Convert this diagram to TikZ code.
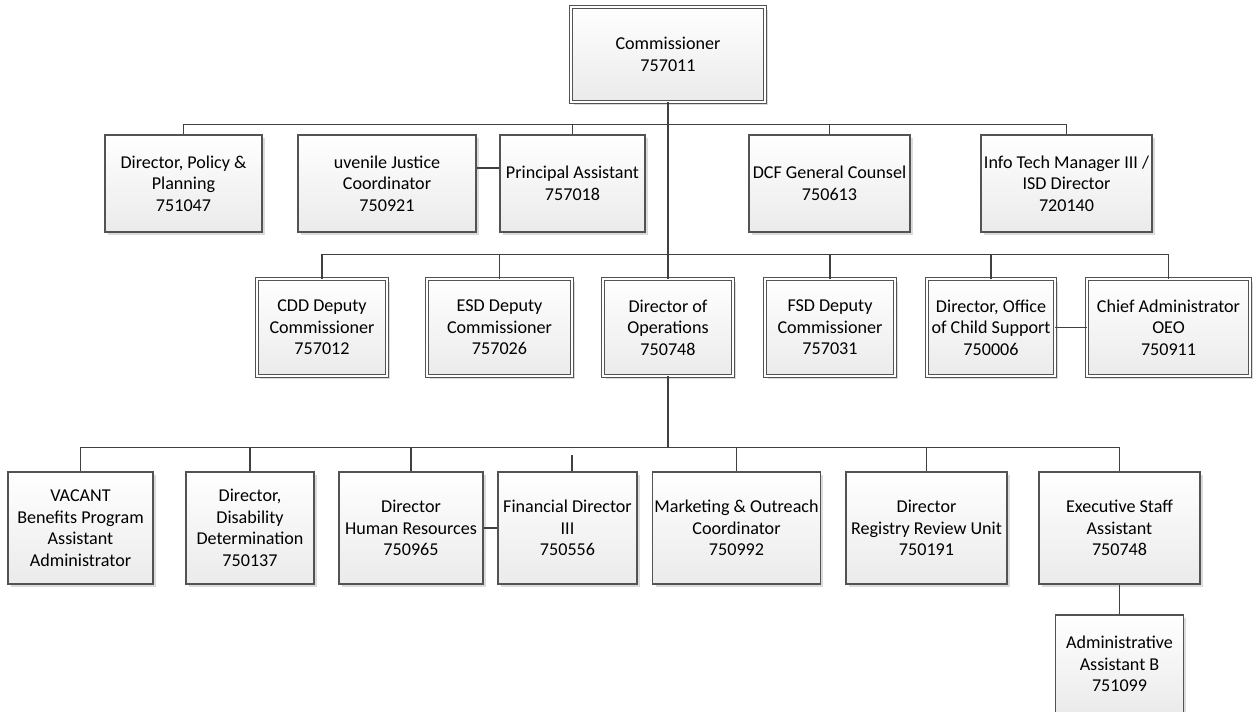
\documentclass[tikz,border=0pt]{standalone}
\usepackage{fontspec}
\setmainfont{Carlito}
\usetikzlibrary{positioning, shadows}
\usetikzlibrary{calc}
\definecolor{linegray}{HTML}{404040}
\tikzset{
x=0.02cm, y=-0.02cm, % one unit is one pixel of the sketch, y runs downwards
every node/.style={font=\fontsize{10.3}{12.3}\selectfont, align=center}, % text of every box
post/.style={draw=linegray!90, line width=0.75pt, top color=white, bottom color=gray!16,
  inner sep=1pt, drop shadow={shadow xshift=1.6pt, shadow yshift=-1.6pt, fill=gray!28, opacity=1}}, % plain box
head/.style={post, double=white, double distance=1.3pt, line width=0.55pt}, % box with a double frame
link/.style={draw=linegray, line width=1pt}, % connector between boxes
trunk/.style={link, line width=1.3pt}, % the main vertical line
}

\begin{document}
\begin{tikzpicture}
    \useasboundingbox (0,0) rectangle (1253,712);
    % top
    \node[head, minimum width=3.88cm, minimum height=1.9cm] (comm) at (668,54.5) {Commissioner\\757011};
    % first row
    \node[post, minimum width=3.14cm, minimum height=1.94cm] (policy) at (183.5,183.5) {Director, Policy \&\\Planning\\751047};
    \node[post, minimum width=3.56cm, minimum height=1.94cm] (juvenile) at (387,183.5) {uvenile Justice\\Coordinator\\750921};
    \node[post, minimum width=2.9cm, minimum height=1.94cm] (principal) at (572.5,183.5) {Principal Assistant\\757018};
    \node[post, minimum width=3.22cm, minimum height=1.94cm] (counsel) at (829.5,183.5) {DCF General Counsel\\750613};
    \node[post, minimum width=3.42cm, minimum height=1.94cm] (infotech) at (1066.5,183.5) {Info Tech Manager III /\\ISD Director\\720140};
    % second row
    \node[head, minimum width=2.6cm, minimum height=1.94cm] (cdd) at (322,327.5) {CDD Deputy\\Commissioner\\757012};
    \node[head, minimum width=2.9cm, minimum height=1.94cm] (esd) at (499.5,327.5) {ESD Deputy\\Commissioner\\757026};
    \node[head, minimum width=2.6cm, minimum height=1.94cm] (ops) at (668,327.5) {Director of\\Operations\\750748};
    \node[head, minimum width=2.6cm, minimum height=1.94cm] (fsd) at (830,327.5) {FSD Deputy\\Commissioner\\757031};
    \node[head, minimum width=2.56cm, minimum height=1.94cm] (ocs) at (991,327.5) {Director, Office\\of Child Support\\750006};
    \node[head, minimum width=3.26cm, minimum height=1.94cm] (oeo) at (1168.5,327.5) {Chief Administrator\\OEO\\750911};
    % third row
    \node[post, minimum width=2.9cm, minimum height=2.24cm] (vacant) at (80.5,528) {VACANT\\Benefits Program\\Assistant\\Administrator};
    \node[post, minimum width=2.56cm, minimum height=2.24cm] (disability) at (250,528) {Director,\\Disability\\Determination\\750137};
    \node[post, minimum width=2.88cm, minimum height=2.24cm] (hr) at (411,528) {Director\\Human Resources\\750965};
    \node[post, minimum width=2.78cm, minimum height=2.24cm] (finance) at (567.5,528) {Financial Director\\III\\750556};
    \node[post, minimum width=3.34cm, minimum height=2.24cm] (marketing) at (736.5,528) {Marketing \& Outreach\\Coordinator\\750992};
    \node[post, minimum width=3.22cm, minimum height=2.24cm] (registry) at (926.5,528) {Director\\Registry Review Unit\\750191};
    \node[post, minimum width=3.22cm, minimum height=2.24cm] (staff) at (1119.5,528) {Executive Staff\\Assistant\\750748};
    \node[post, minimum width=2.56cm, minimum height=1.96cm] (adminb) at (1119.5,664) {Administrative\\Assistant B\\751099};
    % lines
    \draw[trunk] (comm.south) -- ++(0,22) coordinate (b1) -- (ops.north);
    \path (ops.north) ++(0,-24) coordinate (b2);
    \draw[trunk] (ops.south) -- ++(0,71) coordinate (b3);
    \foreach \n in {policy, principal, counsel, infotech}
        \draw[link] (b1) -| (\n.north);
    \foreach \n in {cdd, esd, fsd, ocs, oeo}
        \draw[link] (b2) -| (\n.north);
    \foreach \n in {vacant, disability, hr, marketing, registry, staff}
        \draw[link] (b3) -| (\n.north);
    \draw[link] ([yshift=3.1mm]juvenile.east) -- ([yshift=3.1mm]principal.west);
    \draw[link] (ocs.east) -- (oeo.west);
    \draw[link] (hr.east) -- (finance.west);
    \draw[link] ([xshift=0.09cm]finance.north) -- ++(0,-16) coordinate (stub);
    \draw[link] (staff.south) -- (adminb.north);
\end{tikzpicture}
\end{document}
